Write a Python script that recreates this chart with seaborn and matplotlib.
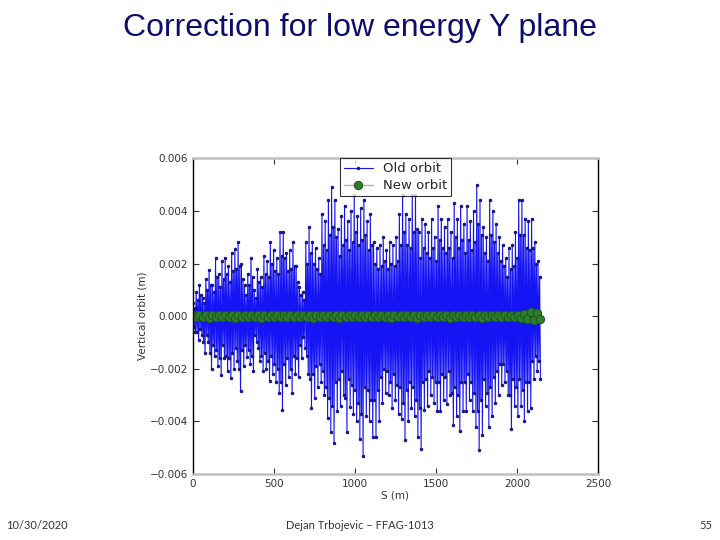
import matplotlib
matplotlib.use('Agg')
import matplotlib.pyplot as plt
import numpy as np
import pandas as pd
import seaborn as sns

# old orbit (mm), one group of four samples per 20 m of S:
# big positive swing, small negative, small positive, big negative
old_top = [0.5, 0.9, 1.2, 0.7, 1.4, 1.75, 1.2, 2.2, 1.6, 2.1,
           2.2, 1.9, 2.4, 2.55, 2.8, 2.0, 1.2, 1.6, 2.2, 1.0,
           1.8, 1.5, 2.3, 2.1, 2.8, 2.5, 2.2, 3.2, 3.2, 2.4,
           2.5, 2.8, 1.9, 1.1, 0.9, 2.8, 3.4, 2.8, 2.6, 2.2,
           3.9, 3.6, 4.4, 4.9, 4.4, 3.3, 3.8, 4.2, 3.6, 4.0,
           4.6, 3.8, 4.1, 4.4, 3.6, 3.9, 2.8, 2.6, 2.7, 3.0,
           2.5, 2.8, 2.7, 3.0, 3.9, 4.6, 3.9, 3.7, 4.6, 4.6,
           3.2, 3.7, 3.5, 3.2, 3.7, 3.0, 4.2, 3.7, 3.4, 3.7,
           3.2, 4.3, 3.7, 4.2, 3.5, 4.2, 3.6, 4.0, 5.0, 4.4,
           3.4, 3.0, 4.4, 4.0, 3.5, 3.0, 2.7, 2.2, 2.6, 2.7,
           3.2, 4.4, 4.4, 3.7, 3.6, 3.7, 2.8, 2.1]
old_inner_bot = [-0.4, -0.6, -0.5, -1.0, -0.7, -1.4, -1.1, -1.3, -1.6, -1.1,
                 -1.5, -1.6, -1.4, -1.2, -2.0, -1.3, -1.1, -1.3, -1.5, -0.7,
                 -1.2, -1.5, -1.4, -1.7, -1.5, -1.8, -2.0, -2.5, -1.8, -1.6,
                 -2.0, -1.5, -1.6, -1.1, -0.8, -1.5, -2.4, -2.2, -1.9, -1.8,
                 -2.1, -2.7, -3.1, -3.4, -2.5, -2.4, -2.1, -3.1, -2.4, -2.6,
                 -2.8, -3.3, -3.7, -2.7, -2.8, -3.2, -3.2, -2.8, -2.3, -2.0,
                 -2.1, -2.5, -2.2, -2.6, -2.7, -3.3, -2.8, -2.5, -2.7, -3.2,
                 -3.5, -2.5, -2.4, -2.1, -2.3, -2.5, -2.5, -2.2, -2.3, -2.1,
                 -2.9, -2.7, -3.0, -2.5, -2.5, -2.2, -2.5, -2.9, -3.6, -3.2,
                 -2.4, -2.9, -2.7, -2.3, -2.1, -1.8, -1.8, -2.1, -3.0, -2.4,
                 -2.7, -2.4, -2.8, -2.5, -2.5, -1.7, -1.5, -1.7]
old_inner_top = [0.3, 0.6, 0.8, 0.5, 1.0, 1.2, 0.9, 1.5, 1.1, 1.4,
                 1.6, 1.3, 1.7, 1.8, 1.9, 1.4, 0.8, 1.2, 1.5, 0.7,
                 1.3, 1.1, 1.6, 1.5, 2.0, 1.7, 1.6, 2.3, 2.2, 1.7,
                 1.8, 1.9, 1.3, 0.8, 0.6, 2.0, 2.4, 2.0, 1.8, 1.6,
                 2.7, 2.5, 3.1, 3.4, 3.0, 2.3, 2.7, 2.9, 2.5, 2.8,
                 3.2, 2.7, 2.9, 3.1, 2.5, 2.7, 2.0, 1.8, 1.9, 2.1,
                 1.8, 2.0, 1.9, 2.1, 2.7, 3.2, 2.7, 2.6, 3.2, 3.3,
                 2.2, 2.6, 2.4, 2.2, 2.6, 2.1, 2.9, 2.6, 2.4, 2.6,
                 2.2, 3.0, 2.6, 2.9, 2.4, 2.9, 2.5, 2.8, 3.5, 3.1,
                 2.4, 2.1, 3.1, 2.8, 2.4, 2.1, 1.9, 1.5, 1.8, 1.9,
                 2.2, 3.1, 3.1, 2.6, 2.5, 2.6, 2.0, 1.5]
old_bot = [-0.6, -0.9, -0.7, -1.4, -1.0, -2.0, -1.5, -1.9, -2.25, -1.6,
           -2.1, -2.35, -2.0, -1.7, -2.85, -1.9, -1.55, -1.8, -2.1, -1.0,
           -1.7, -2.1, -2.0, -2.45, -2.2, -2.5, -2.9, -3.55, -2.6, -2.3,
           -2.9, -2.2, -2.3, -1.6, -1.2, -2.2, -3.5, -3.1, -2.7, -2.5,
           -3.0, -3.85, -4.4, -4.8, -3.6, -3.4, -3.0, -4.4, -3.45, -3.7,
           -4.0, -4.65, -5.3, -3.8, -4.0, -4.6, -4.6, -4.0, -3.3, -2.9,
           -3.0, -3.5, -3.2, -3.7, -3.9, -4.7, -4.0, -3.5, -3.8, -4.6,
           -5.05, -3.55, -3.4, -3.0, -3.3, -3.6, -3.6, -3.2, -3.35, -3.0,
           -4.15, -3.8, -4.35, -3.6, -3.6, -3.2, -3.6, -4.2, -5.1, -4.5,
           -3.4, -4.2, -3.8, -3.3, -3.0, -2.6, -2.5, -3.0, -4.3, -3.4,
           -3.8, -3.4, -4.0, -3.6, -3.5, -2.4, -2.1, -2.4]

# corrected orbit (mm), evenly spaced along S
new_orbit = [0.04, -0.05, 0.06, -0.03, 0.05, -0.06, 0.03, -0.04, 0.06, -0.05,
             0.04, -0.03, 0.05, -0.06, 0.04, -0.05, 0.03, -0.04, 0.06, -0.05,
             0.04, -0.06, 0.05, -0.03, 0.04, -0.05, 0.06, -0.04, 0.03, -0.05,
             0.05, -0.04, 0.06, -0.05, 0.04, -0.03, 0.05, -0.06, 0.04, -0.05,
             0.03, -0.04, 0.06, -0.05, 0.04, -0.06, 0.05, -0.03, 0.04, -0.05,
             0.06, -0.04, 0.03, -0.05, 0.05, -0.04, 0.06, -0.05, 0.04, -0.03,
             0.05, -0.06, 0.04, -0.05, 0.03, -0.04, 0.06, -0.05, 0.04, -0.06,
             0.05, -0.04, 0.03, -0.05, 0.06, -0.04, 0.05, -0.03, 0.04, -0.06,
             0.05, -0.05, 0.04, -0.03, 0.06, -0.05, 0.04, -0.04, 0.05, -0.06,
             0.03, -0.05, 0.06, -0.04, 0.05, -0.03, 0.04, -0.05, 0.06, -0.04,
             0.05, -0.06, 0.08, -0.10, 0.14, -0.14, 0.12, -0.10]

S_END = 2145.0

old_vals = np.ravel(np.column_stack([old_top, old_inner_bot, old_inner_top, old_bot])) * 1e-3
df_old = pd.DataFrame({'S': np.linspace(0, S_END, len(old_vals)), 'orbit': old_vals})
df_new = pd.DataFrame({'S': np.linspace(0, S_END, len(new_orbit)),
                       'orbit': np.array(new_orbit) * 1e-3})

sns.set_style('white')
plt.rcParams['font.family'] = ['DejaVu Sans']

fig = plt.figure(figsize=(7.2, 5.4), dpi=100)
ax = fig.add_axes([0.268, 0.122, 0.5625, 0.585])

sns.lineplot(data=df_old, x='S', y='orbit', ax=ax, sort=False, estimator=None,
             color='#1414f5', lw=0.8, marker='.', markersize=3.5,
             markeredgecolor='#14148a', markerfacecolor='#14148a', label='Old orbit')
sns.lineplot(data=df_new, x='S', y='orbit', ax=ax, sort=False, estimator=None,
             color='#8fc48f', lw=1.0, marker='o', markersize=6,
             markeredgecolor='#1e5a1e', markerfacecolor='#2e7d2e', label='New orbit')

ax.set_xlim(0, 2500)
ax.set_ylim(-0.006, 0.006)
ax.set_xticks([0, 500, 1000, 1500, 2000, 2500])
ax.set_yticks([-0.006, -0.004, -0.002, 0.0, 0.002, 0.004, 0.006])
ax.set_yticklabels(['\u22120.006', '\u22120.004', '\u22120.002', '0.000', '0.002', '0.004', '0.006'])
ax.tick_params(direction='in', length=4, labelsize=7.5, colors='#333333',
               top=True, right=True, bottom=True, left=True)
ax.set_xlabel('S (m)', fontsize=7.5, color='#333333', labelpad=1)
ax.set_ylabel('Vertical orbit (m)', fontsize=7.5, color='#333333', labelpad=2)
for side in ['top', 'bottom']:
    ax.spines[side].set_color('#c0c0c0')
    ax.spines[side].set_linewidth(1.8)
for side in ['left', 'right']:
    ax.spines[side].set_color('black')
    ax.spines[side].set_linewidth(1.0)

leg = ax.legend(loc='upper center', fontsize=9.5, frameon=True, fancybox=False,
                borderaxespad=0.0, handlelength=2.2, borderpad=0.3, labelspacing=0.3)
leg.get_frame().set_edgecolor('black')
leg.get_frame().set_linewidth(0.8)

fig.text(0.5, 0.948, 'Correction for low energy Y plane', ha='center', va='center',
         fontsize=23, color='#0d0d6b', family='Liberation Sans')
fig.text(0.008, 0.026, '10/30/2020', ha='left', va='center', fontsize=8,
         color='#333333', family='Lato')
fig.text(0.5, 0.026, 'Dejan Trbojevic \u2013 FFAG-1013', ha='center', va='center',
         fontsize=8, color='#333333', family='Lato')
fig.text(0.99, 0.026, '55', ha='right', va='center', fontsize=8,
         color='#333333', family='Lato')

fig.savefig('out.png', dpi=100, facecolor='white')
